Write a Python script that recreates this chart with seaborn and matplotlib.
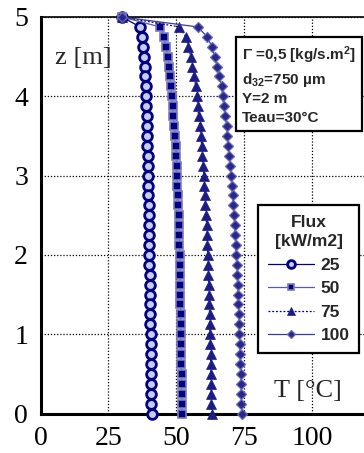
import numpy as np
import pandas as pd
import matplotlib
matplotlib.use("Agg")
import matplotlib.pyplot as plt
import seaborn as sns
from matplotlib.patches import Rectangle

# ---------------- data ----------------
z_m = [5.0, 4.875, 4.75, 4.625, 4.5, 4.375, 4.25, 4.125, 4.0, 3.875, 3.75,
       3.625, 3.5, 3.375, 3.25, 3.125, 3.0, 2.875, 2.75, 2.625, 2.5, 2.375,
       2.25, 2.125, 2.0, 1.875, 1.75, 1.625, 1.5, 1.375, 1.25, 1.125, 1.0,
       0.875, 0.75, 0.625, 0.5, 0.375, 0.25, 0.125, 0.0]

T_25 = [30.0, 36.6, 37.5, 37.8, 38.1, 38.3, 38.5, 38.7, 38.8, 38.9, 39.0,
        39.1, 39.2, 39.3, 39.4, 39.5, 39.6, 39.7, 39.7, 39.8, 39.9, 39.9,
        40.0, 40.0, 40.1, 40.1, 40.2, 40.2, 40.3, 40.3, 40.4, 40.4, 40.5,
        40.5, 40.6, 40.6, 40.7, 40.7, 40.8, 40.8, 40.9]
T_50 = [30.0, 44.0, 45.4, 46.1, 46.8, 47.3, 47.6, 48.0, 48.3, 48.6, 48.9,
        49.2, 49.4, 49.7, 49.9, 50.1, 50.3, 50.4, 50.6, 50.7, 50.8, 50.9,
        51.0, 51.1, 51.2, 51.3, 51.3, 51.4, 51.5, 51.5, 51.6, 51.6, 51.7,
        51.7, 51.8, 51.8, 51.9, 51.9, 52.0, 52.0, 52.1]
T_75 = [30.0, 51.0, 53.5, 54.4, 55.3, 55.9, 56.6, 57.1, 57.5, 57.8, 58.2,
        58.6, 59.0, 59.3, 59.6, 59.8, 60.1, 60.3, 60.5, 60.7, 60.9, 61.1,
        61.2, 61.4, 61.5, 61.7, 61.8, 61.9, 62.0, 62.1, 62.2, 62.3, 62.4,
        62.5, 62.6, 62.6, 62.7, 62.8, 62.8, 62.9, 63.0]
T_100 = [30.0, 57.8, 61.4, 63.0, 64.2, 65.0, 65.8, 66.7, 67.0, 67.5, 68.0,
         68.5, 68.8, 69.1, 69.5, 69.8, 70.1, 70.4, 70.7, 70.9, 71.2, 71.4,
         71.6, 71.8, 72.0, 72.2, 72.4, 72.5, 72.7, 72.8, 73.0, 73.1, 73.2,
         73.3, 73.4, 73.5, 73.6, 73.7, 73.8, 73.9, 74.0]

flux_labels = ["25", "50", "75", "100"]
x_ticks = [0, 25, 50, 75, 100]
y_ticks = [0, 1, 2, 3, 4, 5]

# ---------------- style ----------------
sns.set_theme(style="white")
plt.rcParams["font.family"] = ["Liberation Serif", "DejaVu Serif"]
plt.rcParams["mathtext.fontset"] = "custom"
plt.rcParams["mathtext.rm"] = "Liberation Sans:bold"
plt.rcParams["mathtext.bf"] = "Liberation Sans:bold"
plt.rcParams["mathtext.it"] = "Liberation Sans:bold"

fig = plt.figure(figsize=(3.64, 4.53), dpi=100)
ax = fig.add_axes([40.5 / 364, 1 - 413.5 / 453, 1 - 40.5 / 364, (413.5 - 17) / 453])

styles = [
    dict(marker="o", color="#000080", ls="-", ms=7.0, mfc="#c8ccf0", mec="#000080", mew=2.0, lw=0.9),
    dict(marker="s", color="#5a5aa8", ls="-", ms=5.8, mfc="#000080", mec="#7a7abc", mew=1.2, lw=0.9),
    dict(marker="^", color="#000080", ls=(0, (1.5, 1.5)), ms=6.5, mfc="#1c1c84", mec="#1c1c84", mew=0.5, lw=0.9),
    dict(marker="D", color="#3a3a9a", ls="-", ms=5.0, mfc="#28288c", mec="#6a6ab4", mew=0.9, lw=0.9),
]
series = [T_25, T_50, T_75, T_100]

for T, lab, st in zip(series, flux_labels, styles):
    df = pd.DataFrame({"T": T, "z": z_m})
    sns.lineplot(data=df, x="T", y="z", sort=False, estimator=None, ax=ax,
                 label=lab, color=st["color"], linestyle=st["ls"], linewidth=st["lw"],
                 marker=st["marker"], markersize=st["ms"], markerfacecolor=st["mfc"],
                 markeredgecolor=st["mec"], markeredgewidth=st["mew"], clip_on=False, zorder=3)

ax.set_xlim(0, (364 - 40.5) / 2.718)
ax.set_ylim(0, 5)
ax.set_xticks(x_ticks)
ax.set_yticks(y_ticks)
ax.set_xlabel("")
ax.set_ylabel("")
ax.tick_params(axis="both", which="both", direction="in", length=4, width=1,
               labelsize=20, pad=9, colors="black")
ax.tick_params(axis="x", pad=9)
ax.grid(True, color="black", linestyle=(0, (1, 1.5)), linewidth=0.9)
for s in ["left", "bottom"]:
    ax.spines[s].set_color("black")
    ax.spines[s].set_linewidth(2.2)
ax.spines["top"].set_color("black")
ax.spines["top"].set_linewidth(1.2)
ax.spines["right"].set_visible(False)

# axis titles inside the plot
fig.text(83 / 364, 1 - 58 / 453, "z [m]", fontsize=19, ha="center", va="center")
fig.text(308 / 364, 1 - 391 / 453, "T [°C]", fontsize=19, ha="center", va="center")

# annotation box
fig.patches.append(Rectangle((236 / 364, 1 - 131 / 453), (362 - 236) / 364, (131 - 37) / 453,
                             transform=fig.transFigure, facecolor="white",
                             edgecolor="black", linewidth=1.6, zorder=5))
txt_kw = dict(fontsize=11, fontweight="bold", family=["Liberation Sans", "DejaVu Sans"],
              ha="left", va="center", zorder=6)
fig.text(242 / 364, 1 - 55 / 453, "Γ =0,5 [kg/s.m$^{2}$]", **txt_kw)
fig.text(242 / 364, 1 - 80 / 453, "d$_{32}$=750 µm", **txt_kw)
fig.text(242 / 364, 1 - 99 / 453, "Y=2 m", **txt_kw)
fig.text(242 / 364, 1 - 118 / 453, "Teau=30°C", **txt_kw)

# legend
leg = ax.legend(title="Flux\n[kW/m2]", loc="upper left",
                bbox_to_anchor=(258 / 364, 1 - 205 / 453), bbox_transform=fig.transFigure,
                borderaxespad=0, alignment="center",
                frameon=True, fancybox=False, edgecolor="black", framealpha=1,
                handlelength=2.7, handletextpad=0.35, labelspacing=0.48,
                borderpad=0.55, prop={"family": "Liberation Sans", "weight": "bold", "size": 12.5},
                title_fontproperties={"family": "Liberation Sans", "weight": "bold", "size": 12.5},
                markerscale=0.8)
leg.get_frame().set_linewidth(1.6)
leg.get_title().set_multialignment("center")
leg.get_title().set_linespacing(1.4)
leg.set_zorder(10)

fig.savefig("out.png", dpi=100)
